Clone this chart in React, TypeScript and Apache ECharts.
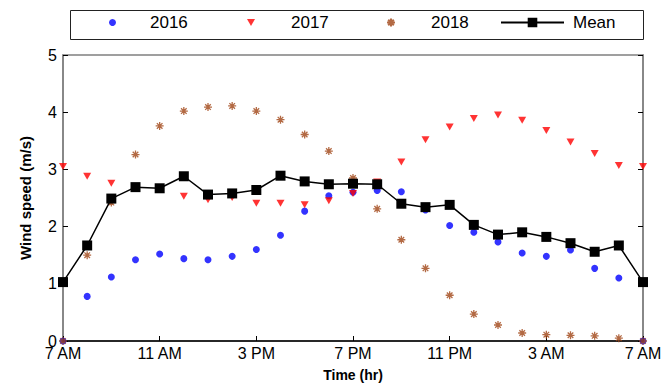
import React, { useEffect, useRef } from 'react';
import * as echarts from 'echarts';

const hours = [0, 1, 2, 3, 4, 5, 6, 7, 8, 9, 10, 11, 12, 13, 14, 15, 16, 17, 18, 19, 20, 21, 22, 23, 24];
const tickLabels = ['7 AM', '11 AM', '3 PM', '7 PM', '11 PM', '3 AM', '7 AM'];

const s2016 = [0, 0.78, 1.12, 1.42, 1.52, 1.44, 1.42, 1.48, 1.6, 1.85, 2.27, 2.54, 2.6, 2.63, 2.61, 2.29, 2.02, 1.9, 1.73, 1.54, 1.48, 1.59, 1.27, 1.1, 0];
const s2017 = [3.05, 2.88, 2.76, 2.7, 2.66, 2.53, 2.47, 2.51, 2.41, 2.41, 2.38, 2.45, 2.58, 2.78, 3.13, 3.52, 3.74, 3.89, 3.95, 3.86, 3.68, 3.48, 3.28, 3.07, 3.05];
const s2018 = [0, 1.5, 2.42, 3.26, 3.76, 4.02, 4.09, 4.11, 4.02, 3.87, 3.61, 3.32, 2.85, 2.31, 1.77, 1.27, 0.8, 0.47, 0.28, 0.14, 0.11, 0.1, 0.09, 0.05, 0];
const meanVals = [1.03, 1.67, 2.49, 2.69, 2.67, 2.88, 2.56, 2.58, 2.64, 2.89, 2.79, 2.74, 2.75, 2.74, 2.4, 2.34, 2.38, 2.03, 1.86, 1.9, 1.82, 1.71, 1.56, 1.67, 1.03];

const FONT = "'Liberation Sans', Arial, sans-serif";
const TRI = 'path://M0,0 L10,0 L5,8.66 Z';
const STAR = 'path://M0,-10 L0,10 M-10,0 L10,0 M-7,-7 L7,7 M-7,7 L7,-7';
const BROWN = '#A04515';

export default function App() {
  const ref = useRef<HTMLDivElement>(null);
  useEffect(() => {
    const chart = echarts.init(ref.current!, null, { renderer: 'svg' });
    const pair = (arr: number[]) => hours.map((h, i) => [h, arr[i]]);
    const gray = '#808080';
    const legendText = (padLeft: number) => ({
      fontSize: 17, color: '#000', fontFamily: FONT, padding: [0, 0, 0, padLeft],
    });
    chart.setOption({
      animation: false,
      backgroundColor: '#fff',
      textStyle: { fontFamily: FONT },
      grid: {
        left: 63, right: 23, top: 55, bottom: 44,
        show: true, borderColor: gray, borderWidth: 1.5, backgroundColor: 'transparent',
      },
      graphic: [
        {
          type: 'rect', left: 68, top: 8, silent: true,
          shape: { width: 573, height: 29 },
          style: { fill: 'none', stroke: '#222', lineWidth: 1 },
        },
      ],
      legend: [
        {
          data: ['2016'], left: 109, top: 14, padding: 0,
          itemWidth: 7, itemHeight: 7, textStyle: legendText(29),
        },
        {
          data: ['2017'], left: 247, top: 14, padding: 0,
          itemWidth: 8, itemHeight: 7, textStyle: legendText(31),
        },
        {
          data: ['2018'], left: 386, top: 14, padding: 0,
          itemWidth: 8, itemHeight: 8, textStyle: legendText(31),
        },
        {
          data: ['Mean'], left: 500, top: 14, padding: 0,
          itemWidth: 63, itemHeight: 12, textStyle: legendText(4),
        },
      ],
      xAxis: {
        type: 'value', min: 0, max: 24, interval: 4,
        axisLine: { show: true, lineStyle: { color: '#000', width: 1.5 } },
        axisTick: { show: true, inside: true, length: 5, lineStyle: { color: '#000' } },
        axisLabel: {
          fontSize: 16, color: '#000', margin: 4, fontFamily: FONT,
          showMinLabel: true, showMaxLabel: true,
          formatter: (v: number) => tickLabels[Math.round(v / 4)],
        },
        splitLine: { show: false },
        name: 'Time (hr)', nameLocation: 'middle', nameGap: 27,
        nameTextStyle: { fontSize: 14, fontWeight: 'bold', color: '#000', fontFamily: FONT },
      },
      yAxis: [
        {
          type: 'value', min: 0, max: 5, interval: 1, position: 'left',
          axisLine: { show: true, lineStyle: { color: gray, width: 1.5 } },
          axisTick: { show: true, inside: true, length: 5, lineStyle: { color: '#000' } },
          axisLabel: { fontSize: 16, color: '#000', margin: 6, fontFamily: FONT },
          splitLine: { show: false },
          name: 'Wind speed (m/s)', nameLocation: 'middle', nameGap: 30,
          nameTextStyle: { fontSize: 15, fontWeight: 'bold', color: '#000', fontFamily: FONT },
        },
        {
          type: 'value', min: 0, max: 5, interval: 1, position: 'right',
          axisLine: { show: true, lineStyle: { color: gray, width: 1.5 } },
          axisTick: { show: true, inside: true, length: 5, lineStyle: { color: '#000' } },
          axisLabel: { show: false },
          splitLine: { show: false },
        },
      ],
      series: [
        {
          name: '2016', type: 'scatter', data: pair(s2016),
          symbol: 'circle', symbolSize: 7,
          itemStyle: { color: '#0000FF' },
        },
        {
          name: '2017', type: 'scatter', data: pair(s2017),
          symbol: TRI, symbolSize: [8, 7],
          itemStyle: { color: '#FF0000' },
        },
        {
          name: '2018', type: 'scatter', data: pair(s2018),
          symbol: STAR, symbolSize: 8,
          itemStyle: { color: BROWN, borderColor: BROWN, borderWidth: 1.3 },
        },
        {
          name: 'Mean', type: 'line', data: pair(meanVals),
          symbol: 'rect', symbolSize: 10,
          itemStyle: { color: '#000' },
          lineStyle: { color: '#000', width: 1.5 },
        },
      ],
    });
    return () => chart.dispose();
  }, []);
  return (
    <div
      ref={ref}
      style={{ position: 'fixed', left: 0, top: 0, width: 666, height: 387, background: '#fff' }}
    />
  );
}
